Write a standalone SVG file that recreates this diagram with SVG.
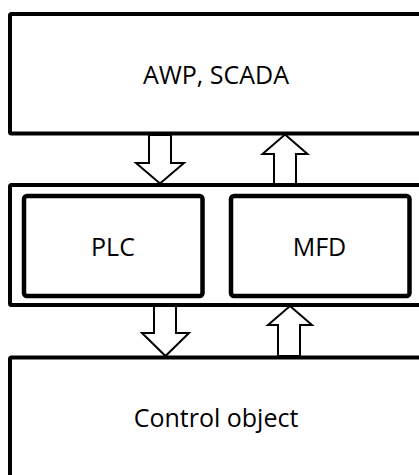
<svg xmlns="http://www.w3.org/2000/svg" width="419" height="475" viewBox="0 0 419 475">
  <style>
    .box { fill: #ffffff; stroke: #000000; stroke-width: 4; stroke-linejoin: round; }
    .inner { fill: #ffffff; stroke: #000000; stroke-width: 4.5; }
    .arrow { fill: #ffffff; stroke: #000000; stroke-width: 2; stroke-linejoin: miter; }
    .label { font-family: "Open Sans", "Liberation Sans", sans-serif; font-size: 25px; fill: #000000; text-anchor: middle; }
  </style>
  <rect x="0" y="0" width="419" height="475" fill="#ffffff"/>

  <!-- top level: workstations -->
  <g id="awp-scada">
    <rect class="box" x="10" y="14" width="420" height="119.5" rx="1.5"/>
    <text class="label" x="216" y="84">AWP, SCADA</text>
  </g>

  <!-- controller level -->
  <g id="controller-level">
    <rect class="box" x="10" y="185" width="420" height="120" rx="1.5"/>
  </g>
  <g id="plc">
    <rect class="inner" x="24" y="196" width="178.5" height="100" rx="3"/>
    <text class="label" x="113" y="256">PLC</text>
  </g>
  <g id="mfd">
    <rect class="inner" x="231" y="196" width="178.5" height="100" rx="3"/>
    <text class="label" x="319.5" y="256">MFD</text>
  </g>

  <!-- field level -->
  <g id="control-object">
    <rect class="box" x="10" y="357.5" width="420" height="130" rx="1.5"/>
    <text class="label" x="216" y="427">Control object</text>
  </g>

  <!-- block arrows between levels -->
  <g id="connectors">
    <polygon class="arrow" points="149,135 149,163 136,163 160,183.5 184,163 171,163 171,135"/>
    <polygon class="arrow" points="285,134.5 307.5,154 296,154 296,184 274,184 274,154 262.5,154"/>
    <polygon class="arrow" points="154,306 154,333 142,333 165.5,356 189,333 176,333 176,306"/>
    <polygon class="arrow" points="290,306 312,325 300,325 300,356 278,356 278,325 268,325"/>
  </g>
</svg>
